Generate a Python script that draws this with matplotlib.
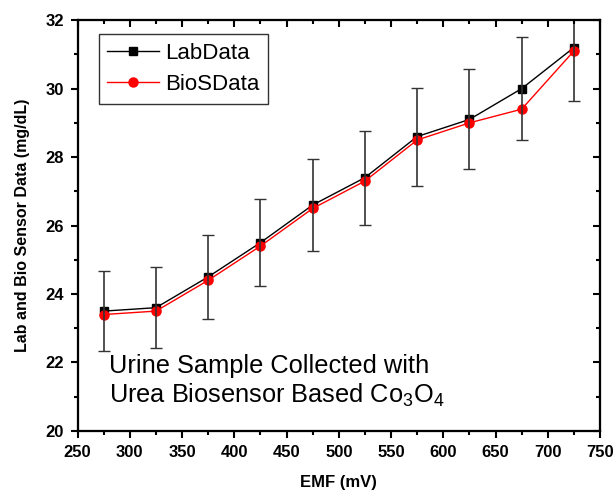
import matplotlib
matplotlib.use('Agg')
import matplotlib.pyplot as plt
from matplotlib.ticker import MultipleLocator

plt.rcParams['font.family'] = ['Liberation Sans', 'DejaVu Sans']
plt.rcParams['mathtext.fontset'] = 'custom'
plt.rcParams['mathtext.rm'] = 'Liberation Sans'
plt.rcParams['mathtext.it'] = 'Liberation Sans'

emf = [275, 325, 375, 425, 475, 525, 575, 625, 675, 725]
lab = [23.5, 23.6, 24.5, 25.5, 26.6, 27.4, 28.6, 29.1, 30.0, 31.2]
bios = [23.4, 23.5, 24.4, 25.4, 26.5, 27.3, 28.5, 29.0, 29.4, 31.1]
lab_err = [1.18, 1.18, 1.23, 1.28, 1.33, 1.37, 1.43, 1.46, 1.50, 1.56]

fig = plt.figure(figsize=(6.16, 4.93), dpi=100)
ax = fig.add_axes([0.126, 0.126, 0.848, 0.833])

ax.plot(emf, lab, color='black', lw=1, marker='s', ms=5.5, label='LabData', zorder=3)
ax.plot(emf, bios, color='red', lw=1, marker='o', ms=6.5, label='BioSData', zorder=4)
ax.errorbar(emf, lab, yerr=lab_err, fmt='none', ecolor='#333333', elinewidth=1.2,
            capsize=4, capthick=1, zorder=5)

ax.set_xlim(250, 750)
ax.set_ylim(20, 32)
ax.xaxis.set_major_locator(MultipleLocator(50))
ax.xaxis.set_minor_locator(MultipleLocator(25))
ax.yaxis.set_major_locator(MultipleLocator(2))
ax.yaxis.set_minor_locator(MultipleLocator(1))

ax.tick_params(which='both', direction='out', top=False, right=False, width=1.5)
ax.tick_params(which='major', length=5, labelsize=12, pad=5)
ax.tick_params(which='minor', length=3)
for lbl in ax.get_xticklabels() + ax.get_yticklabels():
    lbl.set_fontweight('bold')

# inward ticks on top and right
ax2 = ax.twiny()
ax2.set_xlim(ax.get_xlim())
ax2.xaxis.set_major_locator(MultipleLocator(50))
ax2.xaxis.set_minor_locator(MultipleLocator(25))
ax2.tick_params(which='both', direction='in', labeltop=False, width=1.5)
ax2.tick_params(which='major', length=5)
ax2.tick_params(which='minor', length=3)
ax3 = ax.twinx()
ax3.set_ylim(ax.get_ylim())
ax3.yaxis.set_major_locator(MultipleLocator(2))
ax3.yaxis.set_minor_locator(MultipleLocator(1))
ax3.tick_params(which='both', direction='in', labelright=False, width=1.5)
ax3.tick_params(which='major', length=5)
ax3.tick_params(which='minor', length=3)

for a in (ax, ax2, ax3):
    for s in a.spines.values():
        s.set_linewidth(1.5)

ax.set_xlabel('EMF (mV)', fontsize=12, fontweight='bold', labelpad=11)
ax.set_ylabel('Lab and Bio Sensor Data (mg/dL)', fontsize=11.5, fontweight='bold', labelpad=11)

ax.text(280, 21.7, 'Urine Sample Collected with', fontsize=18.3)
ax.text(280, 20.82, 'Urea Biosensor Based Co$_3$O$_4$', fontsize=18.3)

leg = ax.legend(loc='upper left', bbox_to_anchor=(0.04, 0.967), fontsize=16, frameon=True,
                fancybox=False, edgecolor='black', handlelength=2.3, handletextpad=0.3,
                borderpad=0.4, labelspacing=0.45, borderaxespad=0)
leg.get_frame().set_linewidth(1)

fig.savefig('out.png', dpi=100)
